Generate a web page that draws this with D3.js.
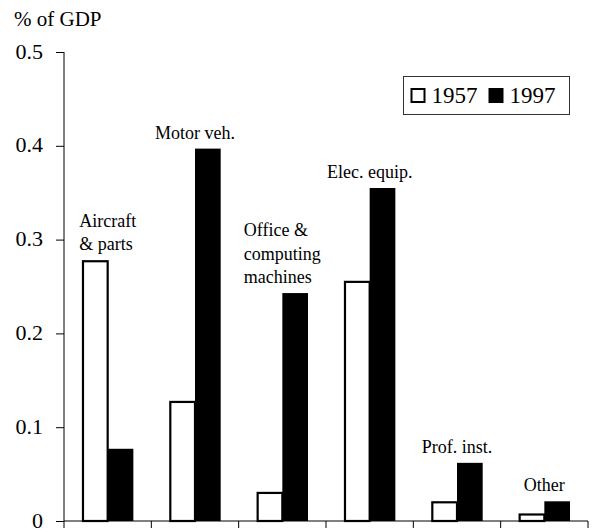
<!DOCTYPE html>
<html>
<head>
<meta charset="utf-8">
<script src="https://cdnjs.cloudflare.com/ajax/libs/d3/7.8.5/d3.min.js"></script>
<style>
  body { margin: 0; background: #fff; }
  svg { display: block; font-family: "Liberation Serif", "Times New Roman", serif; }
  .axis path, .axis line { stroke: #000; stroke-width: 1; }
  .axis text { font-family: "Liberation Serif", "Times New Roman", serif; font-size: 22px; fill: #000; }
</style>
</head>
<body>
<div class="js-container"></div>
<script>
;(function() {
  'use strict';

  var categories = ['Aircraft', 'Motor veh.', 'Office', 'Elec. equip.', 'Prof. inst.', 'Other'];
  var labelLines = [
    ['Aircraft', '& parts'],
    ['Motor veh.'],
    ['Office &', 'computing', 'machines'],
    ['Elec. equip.'],
    ['Prof. inst.'],
    ['Other']
  ];
  var years = ['1957', '1997'];
  var values1957 = [0.278, 0.128, 0.031, 0.256, 0.021, 0.008];
  var values1997 = [0.077, 0.397, 0.243, 0.355, 0.062, 0.021];
  var yTicks = [0, 0.1, 0.2, 0.3, 0.4, 0.5];

  var width = 593, height = 532;
  var margin = {top: 52, right: 5, bottom: 11, left: 64};
  var plotW = 588 - margin.left;
  var plotH = height - margin.bottom - margin.top;

  var svg = d3.select('.js-container').append('svg')
      .attr('width', width)
      .attr('height', height);

  var g = svg.append('g')
      .attr('transform', 'translate(' + margin.left + ',' + margin.top + ')');

  var x0 = d3.scaleBand().domain(categories).range([0, plotW]).padding(0);
  var x1 = d3.scaleBand().domain(years).range([0, x0.bandwidth()])
      .paddingInner(0).paddingOuter(0.7);
  var y = d3.scaleLinear().domain([0, 0.5]).range([plotH, 0]);

  var rows = categories.map(function(c, i) {
    return {cat: c, lines: labelLines[i], vals: [values1957[i], values1997[i]]};
  });

  // bars
  var groups = g.selectAll('.grp').data(rows).enter().append('g')
      .attr('class', 'grp')
      .attr('transform', function(d) { return 'translate(' + x0(d.cat) + ',0)'; });

  groups.selectAll('rect')
      .data(function(d) { return d.vals.map(function(v, j) { return {year: years[j], v: v}; }); })
      .enter().append('rect')
      .attr('x', function(d) { return x1(d.year) + (d.year === '1957' ? 1 : 0); })
      .attr('y', function(d) { return y(d.v) + (d.year === '1957' ? 1 : 0); })
      .attr('width', function(d) { return x1.bandwidth() - (d.year === '1957' ? 1 : 0); })
      .attr('height', function(d) { return plotH - y(d.v) - (d.year === '1957' ? 1 : 0); })
      .attr('fill', function(d) { return d.year === '1957' ? '#fff' : '#000'; })
      .attr('stroke', function(d) { return d.year === '1957' ? '#000' : 'none'; })
      .attr('stroke-width', 2.2);

  // category labels, block left aligned and centred on the band
  var lineH = 23.5;
  groups.each(function(d) {
    var grp = d3.select(this);
    var top = y(d3.max(d.vals)) - 10 - (d.lines.length - 1) * lineH;
    var t = grp.append('text')
        .attr('font-size', '18px')
        .attr('fill', '#000');
    d.lines.forEach(function(line, k) {
      t.append('tspan').attr('x', 0).attr('y', top + k * lineH).text(line);
    });
    var w = d3.max(t.selectAll('tspan').nodes(), function(n) { return n.getComputedTextLength(); });
    t.selectAll('tspan').attr('x', x0.bandwidth() / 2 - w / 2);
  });

  // axes
  var yAxis = d3.axisLeft(y)
      .tickValues(yTicks)
      .tickSize(8)
      .tickPadding(13)
      .tickFormat(function(d) { return d === 0 ? '0' : d3.format('.1f')(d); });

  var gy = g.append('g').attr('class', 'axis').call(yAxis);
  gy.attr('font-family', null).attr('font-size', null);
  gy.select('.domain').attr('d', 'M0,0V' + plotH);
  gy.selectAll('text').attr('dy', '0.28em');

  var xAxis = d3.axisBottom(x0).tickSize(7).tickFormat('');
  var gx = g.append('g').attr('class', 'axis')
      .attr('transform', 'translate(0,' + plotH + ')')
      .call(xAxis);
  gx.selectAll('.tick').remove();
  gx.select('.domain').attr('d', 'M0,0H' + plotW);
  var edges = categories.map(function(c) { return x0(c); }).concat([plotW]);
  gx.selectAll('.edge').data(edges).enter().append('line')
      .attr('class', 'edge')
      .attr('x1', function(d) { return d; })
      .attr('x2', function(d) { return d; })
      .attr('y1', 0).attr('y2', 7)
      .attr('stroke', '#000');

  // y unit title
  svg.append('text')
      .attr('x', 14).attr('y', 26)
      .attr('font-size', '21px')
      .text('% of GDP');

  // legend
  var legend = svg.append('g').attr('transform', 'translate(403,76)');
  legend.append('rect')
      .attr('x', 0.5).attr('y', 0.5)
      .attr('width', 166).attr('height', 38)
      .attr('fill', '#fff').attr('stroke', '#333').attr('stroke-width', 1);

  var lx = 8.5;
  years.forEach(function(yr) {
    legend.append('rect')
        .attr('x', lx).attr('y', 13)
        .attr('width', 13).attr('height', 13)
        .attr('fill', yr === '1957' ? '#fff' : '#000')
        .attr('stroke', '#000').attr('stroke-width', 2);
    var t = legend.append('text')
        .attr('x', lx + 20).attr('y', 27.3)
        .attr('font-size', '23px')
        .text(yr);
    lx += 20 + t.node().getComputedTextLength() + 12;
  });

}());
</script>
</body>
</html>
